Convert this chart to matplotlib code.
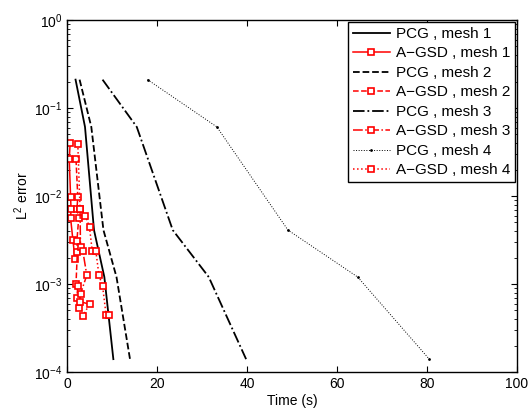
import matplotlib
matplotlib.use("Agg")
import matplotlib.pyplot as plt
import numpy as np

plt.rcParams['font.family'] = ['Liberation Sans', 'DejaVu Sans']
plt.rcParams['mathtext.fontset'] = 'custom'
plt.rcParams['mathtext.rm'] = 'Liberation Sans'
plt.rcParams['mathtext.it'] = 'Liberation Sans:italic'

# PCG convergence (time in s, L2 error)
pcg_err = [0.21, 0.061, 0.0041, 0.0012, 1.4e-4]
pcg_t1 = [1.9, 4.0, 6.0, 8.3, 10.3]
pcg_t2 = [2.8, 5.4, 8.1, 11.0, 14.0]
pcg_t3 = [7.9, 15.5, 23.5, 31.5, 39.8]
pcg_t4 = [17.9, 33.3, 49.1, 64.6, 80.5]

# A-GSD convergence
agsd_t1 = [0.7, 0.5, 0.8, 0.9, 0.8, 1.3, 1.8]
agsd_e1 = [0.040, 0.026, 0.0097, 0.0071, 0.0056, 0.0032, 0.0019]
agsd_t2 = [2.0, 2.4, 2.2, 2.6, 2.2, 2.3, 2.0, 2.4, 2.2, 2.6]
agsd_e2 = [0.026, 0.0097, 0.0071, 0.0056, 0.0031, 0.0023, 0.0010, 0.00095, 0.00070, 0.00054]
agsd_t3 = [2.9, 3.0, 3.5, 4.4, 3.0, 2.9, 5.0, 3.5]
agsd_e3 = [0.0071, 0.0026, 0.0024, 0.00126, 0.00077, 0.00063, 0.00059, 0.00043]
agsd_t4 = [2.4, 2.9, 4.1, 5.0, 5.6, 6.4, 7.1, 7.9, 8.7, 9.4]
agsd_e4 = [0.039, 0.0071, 0.0060, 0.0044, 0.0024, 0.0024, 0.00126, 0.00095, 0.00044, 0.00044]

fig = plt.figure(figsize=(5.30, 4.12), dpi=100)
ax = fig.add_axes([67 / 530, 1 - 372 / 412, 450 / 530, 352 / 412])

pcg_style = dict(color='black', lw=1.3)
agsd_style = dict(color='red', lw=1.1, marker='s', markersize=4.5,
                  markerfacecolor='white', markeredgecolor='red', markeredgewidth=1.2)

ax.semilogy(pcg_t1, pcg_err, '-', label='PCG , mesh 1', **pcg_style)
ax.semilogy(agsd_t1, agsd_e1, '-', label='A\u2212GSD , mesh 1', **agsd_style)
ax.semilogy(pcg_t2, pcg_err, '--', label='PCG , mesh 2', **pcg_style)
ax.semilogy(agsd_t2, agsd_e2, '--', label='A\u2212GSD , mesh 2', **agsd_style)
ax.semilogy(pcg_t3, pcg_err, '-.', label='PCG , mesh 3', **pcg_style)
ax.semilogy(agsd_t3, agsd_e3, '-.', label='A\u2212GSD , mesh 3', **agsd_style)
ax.semilogy(pcg_t4, pcg_err, ':', label='PCG , mesh 4', color='black', lw=0.7,
            marker='.', markersize=2)
ax.semilogy(agsd_t4, agsd_e4, ':', label='A\u2212GSD , mesh 4', **agsd_style)

ax.set_xlim(0, 100)
ax.set_ylim(1e-4, 1)
ax.set_xticks([0, 20, 40, 60, 80, 100])
ax.tick_params(which='both', direction='in', top=True, right=True, labelsize=10)
ax.tick_params(which='major', length=4)
ax.tick_params(which='minor', length=2)
for s in ax.spines.values():
    s.set_linewidth(1.0)

ax.set_xlabel('Time (s)', fontsize=10, labelpad=2)
ax.set_ylabel('L$^2$ error', fontsize=10, labelpad=2)

leg = ax.legend(loc='upper right', fontsize=11, fancybox=False, edgecolor='black',
                framealpha=1, borderaxespad=0.15, handlelength=2.4, handletextpad=0.4,
                labelspacing=0.36, borderpad=0.3)
leg.get_frame().set_linewidth(1.0)

fig.savefig('out.png', dpi=100)
